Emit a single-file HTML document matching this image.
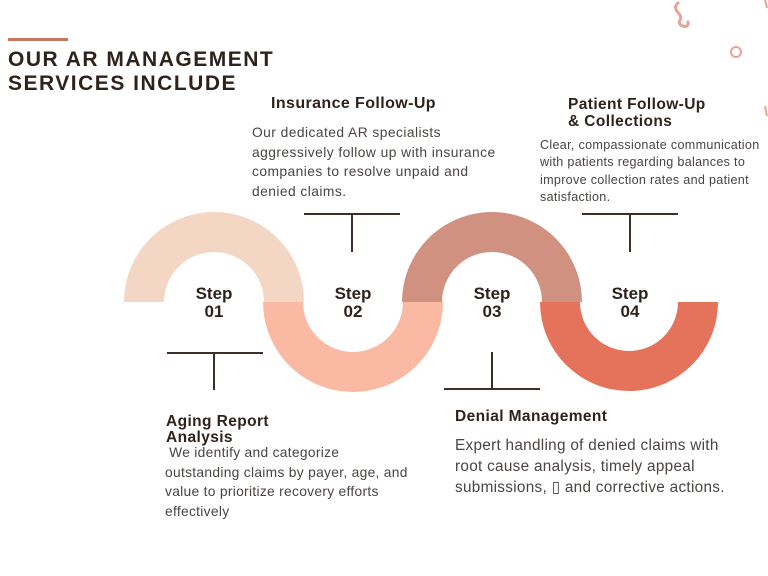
<!DOCTYPE html>
<html><head><meta charset="utf-8"><style>
body{margin:0;width:768px;height:576px;background:#fff;position:relative;overflow:hidden;font-family:"Liberation Sans",sans-serif;color:#3b2b23}
.a{position:absolute;white-space:nowrap}
.h{font-weight:bold;font-size:15.5px;letter-spacing:0.4px;color:#2e221c}
.b{color:#4a4442;letter-spacing:0.3px}
.s{font-weight:bold;font-size:17px;text-align:center;width:80px;line-height:18px;color:#2e221c}
</style></head><body>
<svg class="a" style="left:0;top:0" width="768" height="576">
<rect x="8" y="38" width="60" height="3" fill="#c8755f"/>
<path d="M124 302 A90 90 0 0 1 304 302 L264 302 A50 50 0 0 0 164 302Z" fill="#f3d6c4"/>
<path d="M263 302 A90 90 0 0 0 443 302 L403 302 A50 50 0 0 1 303 302Z" fill="#f9b9a2"/>
<path d="M402 302 A90 90 0 0 1 582 302 L542 302 A50 50 0 0 0 442 302Z" fill="#d09181"/>
<path d="M540 302 A89 89 0 0 0 718 302 L678 302 A49 49 0 0 1 580 302Z" fill="#e5735b"/>
<g stroke="#3b2f28" stroke-width="2">
<line x1="304" y1="214" x2="400" y2="214"/><line x1="352" y1="214" x2="352" y2="252"/>
<line x1="582" y1="214" x2="678" y2="214"/><line x1="630" y1="214" x2="630" y2="252"/>
<line x1="167" y1="353" x2="263" y2="353"/><line x1="214" y1="353" x2="214" y2="390"/>
<line x1="444" y1="389" x2="540" y2="389"/><line x1="492" y1="352" x2="492" y2="389"/>
</g>
<path d="M678 3 C670 10 684 14 680 20 C676 26 690 30 688 22" fill="none" stroke="#e8a595" stroke-width="3" stroke-linecap="round"/>
<circle cx="736" cy="52" r="5" fill="none" stroke="#e8a595" stroke-width="2"/>
<line x1="765" y1="0" x2="767" y2="8" stroke="#e8a595" stroke-width="2"/>
<line x1="765" y1="106" x2="767" y2="116" stroke="#e8a595" stroke-width="2"/>
</svg>
<div class="a" style="left:8px;top:48px;font-size:21px;font-weight:bold;letter-spacing:1.5px;line-height:24px;color:#2e221c">OUR AR MANAGEMENT<br>SERVICES INCLUDE</div>
<div class="a h" style="left:271px;top:95px;font-size:16px">Insurance Follow-Up</div>
<div class="a b" style="left:252px;top:123px;font-size:13.8px;line-height:19.5px;letter-spacing:0.45px">Our dedicated AR specialists<br>aggressively follow up with insurance<br>companies to resolve unpaid and<br>denied claims.</div>
<div class="a h" style="left:568px;top:96px;line-height:17px">Patient Follow-Up<br>&amp; Collections</div>
<div class="a b" style="left:540px;top:137px;font-size:12.6px;line-height:17.3px">Clear, compassionate communication<br>with patients regarding balances to<br>improve collection rates and patient<br>satisfaction.</div>
<div class="a h" style="left:166px;top:414px;line-height:16px">Aging Report<br>Analysis</div>
<div class="a b" style="left:165px;top:443px;font-size:13.8px;line-height:19.5px">&nbsp;We identify and categorize<br>outstanding claims by payer, age, and<br>value to prioritize recovery efforts<br>effectively</div>
<div class="a h" style="left:455px;top:408px">Denial Management</div>
<div class="a b" style="left:455px;top:435px;font-size:15.3px;line-height:21px">Expert handling of denied claims with<br>root cause analysis, timely appeal<br>submissions, &#9647; and corrective actions.</div>
<div class="a s" style="left:174px;top:285px">Step<br>01</div>
<div class="a s" style="left:313px;top:285px">Step<br>02</div>
<div class="a s" style="left:452px;top:285px">Step<br>03</div>
<div class="a s" style="left:590px;top:285px">Step<br>04</div>
</body></html>
